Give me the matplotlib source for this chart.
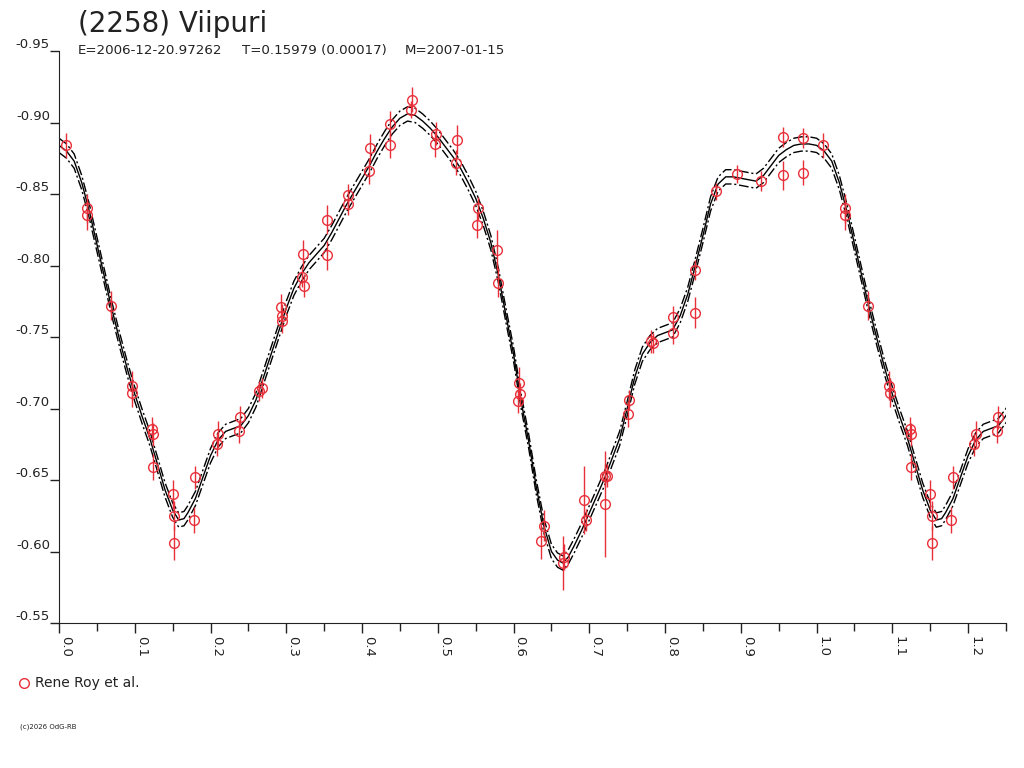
import numpy as np
import matplotlib
matplotlib.use('Agg')
import matplotlib.pyplot as plt
from matplotlib.lines import Line2D

plt.rcParams['font.family'] = ['DejaVu Sans']
plt.rcParams['axes.unicode_minus'] = False

# observations (phase, reduced mag, error) - Rene Roy et al.
phase = [0.009, 0.037, 0.037, 0.068, 0.096, 0.097, 0.123, 0.124, 0.124, 0.150,
         0.152, 0.152, 0.180, 0.178, 0.210, 0.208, 0.239, 0.238, 0.264, 0.268,
         0.293, 0.295, 0.294, 0.322, 0.321, 0.323, 0.354, 0.354, 0.381, 0.382,
         0.410, 0.409, 0.437, 0.437, 0.466, 0.465, 0.497, 0.496, 0.525, 0.524,
         0.553, 0.552, 0.578, 0.580, 0.607, 0.609, 0.606, 0.640, 0.636, 0.666,
         0.665, 0.693, 0.696, 0.721, 0.723, 0.721, 0.752, 0.751, 0.781, 0.784,
         0.811, 0.811, 0.839, 0.840, 0.867, 0.895, 0.926, 0.955, 0.955, 0.982,
         0.982]
mag = [-0.884, -0.840, -0.835, -0.772, -0.716, -0.711, -0.686, -0.682, -0.659, -0.640,
       -0.625, -0.606, -0.652, -0.622, -0.682, -0.675, -0.694, -0.684, -0.712, -0.714,
       -0.771, -0.765, -0.761, -0.808, -0.792, -0.786, -0.832, -0.807, -0.849, -0.843,
       -0.882, -0.866, -0.899, -0.884, -0.916, -0.909, -0.892, -0.885, -0.888, -0.872,
       -0.840, -0.828, -0.811, -0.788, -0.718, -0.710, -0.705, -0.618, -0.607, -0.596,
       -0.592, -0.636, -0.622, -0.653, -0.653, -0.633, -0.706, -0.696, -0.747, -0.746,
       -0.764, -0.753, -0.767, -0.797, -0.852, -0.864, -0.859, -0.890, -0.863, -0.889,
       -0.865]
err = [0.009, 0.010, 0.010, 0.010, 0.010, 0.010, 0.008, 0.008, 0.009, 0.010,
       0.010, 0.012, 0.008, 0.009, 0.009, 0.008, 0.008, 0.008, 0.007, 0.007,
       0.009, 0.008, 0.008, 0.010, 0.007, 0.008, 0.010, 0.010, 0.008, 0.008,
       0.010, 0.009, 0.009, 0.009, 0.009, 0.006, 0.008, 0.009, 0.010, 0.009,
       0.008, 0.009, 0.014, 0.010, 0.011, 0.008, 0.008, 0.011, 0.012, 0.009,
       0.019, 0.024, 0.008, 0.008, 0.008, 0.037, 0.007, 0.009, 0.008, 0.007,
       0.008, 0.008, 0.011, 0.007, 0.006, 0.006, 0.007, 0.007, 0.010, 0.007,
       0.009]

# fitted lightcurve
fit_phase = [0.000, 0.010, 0.020, 0.030, 0.040, 0.050, 0.060, 0.070, 0.080, 0.090,
             0.100, 0.110, 0.120, 0.130, 0.140, 0.150, 0.158, 0.165, 0.170, 0.180,
             0.190, 0.200, 0.210, 0.220, 0.230, 0.240, 0.250, 0.260, 0.270, 0.280,
             0.290, 0.300, 0.310, 0.320, 0.330, 0.340, 0.350, 0.360, 0.370, 0.380,
             0.390, 0.400, 0.410, 0.420, 0.430, 0.440, 0.450, 0.460, 0.470, 0.480,
             0.490, 0.500, 0.510, 0.520, 0.530, 0.540, 0.550, 0.560, 0.570, 0.580,
             0.590, 0.600, 0.610, 0.620, 0.630, 0.640, 0.650, 0.658, 0.665, 0.672,
             0.680, 0.690, 0.700, 0.710, 0.720, 0.730, 0.740, 0.750, 0.760, 0.770,
             0.780, 0.790, 0.800, 0.810, 0.820, 0.830, 0.840, 0.850, 0.860, 0.870,
             0.880, 0.890, 0.900, 0.910, 0.920, 0.930, 0.940, 0.950, 0.960, 0.970,
             0.980, 0.990]
fit_mag = [-0.884, -0.880, -0.873, -0.858, -0.838, -0.815, -0.792, -0.769, -0.748, -0.728,
           -0.710, -0.694, -0.679, -0.661, -0.643, -0.629, -0.622, -0.623, -0.627, -0.637,
           -0.652, -0.667, -0.678, -0.684, -0.686, -0.688, -0.695, -0.706, -0.722, -0.738,
           -0.754, -0.770, -0.784, -0.794, -0.802, -0.808, -0.814, -0.823, -0.833, -0.843,
           -0.852, -0.861, -0.870, -0.880, -0.889, -0.897, -0.903, -0.906, -0.905, -0.901,
           -0.896, -0.890, -0.883, -0.876, -0.868, -0.858, -0.847, -0.833, -0.816, -0.793,
           -0.765, -0.738, -0.705, -0.677, -0.645, -0.618, -0.600, -0.594, -0.592, -0.596,
           -0.604, -0.615, -0.627, -0.639, -0.651, -0.665, -0.679, -0.700, -0.722, -0.738,
           -0.746, -0.751, -0.753, -0.755, -0.765, -0.780, -0.800, -0.821, -0.843, -0.857,
           -0.862, -0.862, -0.861, -0.860, -0.859, -0.863, -0.870, -0.877, -0.881, -0.884,
           -0.885, -0.885]
fit_sigma = 0.005

title = '(2258) Viipuri'
epoch_txt = 'E=2006-12-20.97262'
period_txt = 'T=0.15979 (0.00017)'
mid_txt = 'M=2007-01-15'
legend_txt = 'Rene Roy et al.'
copy_txt = '(c)2026 OdG-RB'

red = '#e8303a'
ink = '#222222'

# phase plot shows 0 .. 1.25, repeat the first quarter
phase = np.array(phase); mag = np.array(mag); err = np.array(err)
rep = phase < 0.25
px = np.concatenate([phase, phase[rep] + 1])
py = np.concatenate([mag, mag[rep]])
pe = np.concatenate([err, err[rep]])

fit_phase = np.array(fit_phase); fit_mag = np.array(fit_mag)
frep = fit_phase <= 0.26
fx = np.concatenate([fit_phase, fit_phase[frep] + 1])
fy = np.concatenate([fit_mag, fit_mag[frep]])

fig = plt.figure(figsize=(10.24, 7.68), dpi=100)
ax = fig.add_axes([59/1024, 1-623/768, (1006-59)/1024, (623-51)/768])

ax.plot(fx, fy, color='black', lw=1)
ax.plot(fx, fy - fit_sigma, color='black', lw=1, dashes=(7, 2, 1.5, 2))
ax.plot(fx, fy + fit_sigma, color='black', lw=1, dashes=(7, 2, 1.5, 2))

ax.errorbar(px, py, yerr=pe, fmt='o', ms=7, mfc='none', mec=red, mew=1,
            ecolor=red, elinewidth=1, capsize=0, zorder=3)

ax.set_xlim(0, 1.25)
ax.set_ylim(-0.55, -0.95)

ax.spines['top'].set_visible(False)
ax.spines['right'].set_visible(False)
ax.spines['left'].set_color(ink)
ax.spines['bottom'].set_color(ink)

ax.set_xticks(np.arange(0, 1.21, 0.1))
ax.set_xticks(np.arange(0.05, 1.26, 0.1), minor=True)
ax.set_xticklabels(['%.1f' % v for v in np.arange(0, 1.21, 0.1)],
                   rotation=-90, ha='left', va='top', fontsize=9.5, color=ink)
ax.set_yticks(np.arange(-0.95, -0.549, 0.05))
ax.set_yticklabels(['%.2f' % v for v in np.arange(-0.95, -0.549, 0.05)],
                   va='bottom', fontsize=9.5, color=ink)
ax.tick_params(axis='x', which='major', direction='out', length=7.2, width=1, pad=2, color=ink)
ax.tick_params(axis='x', which='minor', direction='out', length=5.8, width=1, color=ink)
ax.tick_params(axis='y', direction='out', length=6.5, width=1, pad=0, color=ink)

fig.text(78/1024, 1-32/768, title, fontsize=20, va='baseline', color=ink)
fig.text(78/1024, 1-54/768, epoch_txt, fontsize=9.6, va='baseline', color=ink)
fig.text(242/1024, 1-54/768, period_txt, fontsize=9.6, va='baseline', color=ink)
fig.text(405/1024, 1-54/768, mid_txt, fontsize=9.6, va='baseline', color=ink)

fig.add_artist(Line2D([24/1024], [1-683/768], marker='o', ms=7, mfc='none',
                      mec=red, mew=1, transform=fig.transFigure))
fig.text(35/1024, 1-687/768, legend_txt, fontsize=10, va='baseline', color=ink)
fig.text(20/1024, 1-728/768, copy_txt, fontsize=5, va='baseline', color=ink)

fig.savefig('out.png', dpi=100)
